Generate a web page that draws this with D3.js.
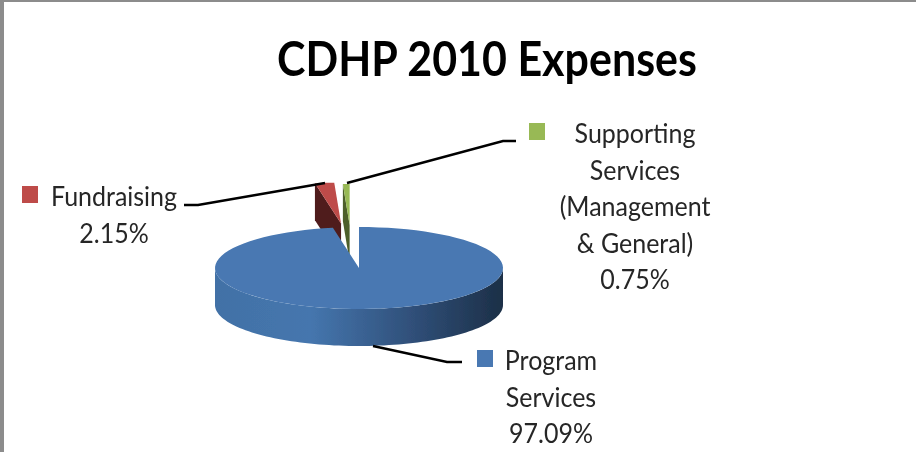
<!DOCTYPE html>
<html>
<head>
<meta charset="utf-8">
<script src="https://cdn.jsdelivr.net/npm/d3@7"></script>
<style>
html, body { margin: 0; padding: 0; background: #fff; }
svg { display: block; }
text { font-family: Lato, "Open Sans", sans-serif; fill: #262626; }
</style>
</head>
<body>
<div id="viz"></div>
<script>
var width = 916;
var height = 452;

var title = "CDHP 2010 Expenses";
var categories = ["Program Services", "Fundraising", "Supporting Services (Management & General)"];
var percents = [97.09, 2.15, 0.75];
var percentLabels = ["97.09%", "2.15%", "0.75%"];
var labelLines = [
	["Program", "Services"],
	["Fundraising"],
	["Supporting", "Services", "(Management", "& General)"]
];
var topColors = ["#4878b2", "#be4b48", "#98b954"];
var sideColors = ["#4878b2", "#4f1e1c", "#4d5f2a"];

var cx = 359, cy = 268, rx = 144, ry = 41, depth = 37;

// pulled out slices: k = how far in radii, lean = degrees added to the pull direction
var explode = [{k: 0, lean: 0}, {k: 1.09, lean: 0}, {k: 1.05, lean: -2.2}];

var pie = d3.pie().sort(null).value(function(d){ return d; });
var arcs = pie(percents);

function pt(a, ox, oy, r){
	return [cx + ox + rx*r*Math.sin(a), cy + oy - ry*r*Math.cos(a)];
}

function wedgePath(d, ox, oy){
	var s = "M " + pt(0, ox, oy, 0);
	for (var i = 0; i <= 90; i++){
		var a = d.startAngle + (d.endAngle - d.startAngle)*i/90;
		s += " L " + pt(a, ox, oy, 1);
	}
	return s + " Z";
}

var svg = d3.select("#viz").append("svg").attr("width", width).attr("height", height);

svg.append("rect").attr("width", width).attr("height", height).attr("fill", "#fff");

var defs = svg.append("defs");
var grad = defs.append("linearGradient").attr("id", "side").attr("gradientUnits", "userSpaceOnUse")
	.attr("x1", cx - rx).attr("x2", cx + rx).attr("y1", 0).attr("y2", 0);
grad.append("stop").attr("offset", 0).attr("stop-color", "#4271a6");
grad.append("stop").attr("offset", 0.33).attr("stop-color", "#4576ae");
grad.append("stop").attr("offset", 0.68).attr("stop-color", "#30507a");
grad.append("stop").attr("offset", 1).attr("stop-color", "#1c2f47");
defs.append("filter").attr("id", "soft").append("feGaussianBlur").attr("stdDeviation", 0.6);

var g = svg.append("g").attr("filter", "url(#soft)");

// exploded slices first, the big one sits in front of them
[1, 2].forEach(function(i){
	var d = arcs[i];
	var mid = (d.startAngle + d.endAngle)/2 + explode[i].lean*Math.PI/180;
	var ox = rx*explode[i].k*Math.sin(mid);
	var oy = -ry*explode[i].k*Math.cos(mid);
	var apex = pt(0, ox, oy, 0);
	var outer = pt(d.startAngle, ox, oy, 1);
	g.append("path")
		.attr("d", "M " + apex + " L " + outer + " L " + [outer[0], outer[1] + depth] + " L " + [apex[0], apex[1] + depth] + " Z")
		.attr("fill", sideColors[i]);
	g.append("path").attr("d", wedgePath(d, ox, oy)).attr("fill", topColors[i]);
});

// rim of the big slice, front half only
var rim = "M " + pt(Math.PI/2, 0, 0, 1);
for (var a = 90; a <= 270; a += 2){
	rim += " L " + pt(a*Math.PI/180, 0, 0, 1);
}
for (var b = 270; b >= 90; b -= 2){
	var p = pt(b*Math.PI/180, 0, 0, 1);
	rim += " L " + [p[0], p[1] + depth];
}
g.append("path").attr("d", rim + " Z").attr("fill", "url(#side)");
g.append("path").attr("d", wedgePath(arcs[0], 0, 0)).attr("fill", topColors[0]);

// leader lines
var leaders = d3.line();
var leaderPts = [
	[[373, 346], [447, 362], [462, 362]],
	[[184, 205], [198, 205], [325, 183]],
	[[347, 183], [503, 141], [516, 141]]
];
leaderPts.forEach(function(l){
	g.append("path").attr("d", leaders(l)).attr("fill", "none").attr("stroke", "#000").attr("stroke-width", 2.4);
});

// legend keys and labels
var keys = [[477, 350], [22, 186], [529, 123]];
var labelX = [551, 114, 635];
var labelY = [361, 197, 134];
var lineStep = 36.5;

categories.forEach(function(c, i){
	g.append("rect").attr("x", keys[i][0]).attr("y", keys[i][1]).attr("width", 16).attr("height", 17).attr("fill", topColors[i]);
	var lines = labelLines[i].concat([percentLabels[i]]);
	lines.forEach(function(t, j){
		g.append("text")
			.attr("transform", "translate(" + labelX[i] + "," + (labelY[i] + j*lineStep) + ") scale(1,1.08)")
			.attr("dy", "0.35em")
			.attr("text-anchor", "middle")
			.attr("font-size", 25)
			.text(t);
	});
});

g.append("text")
	.attr("transform", "translate(487,76) scale(1,1.12)")
	.attr("text-anchor", "middle")
	.attr("font-size", 43)
	.attr("font-weight", 700)
	.attr("style", "fill:#000")
	.text(title);

// window edge of the screenshot
svg.append("rect").attr("x", 0).attr("y", 0).attr("width", width).attr("height", 2).attr("fill", "#8c8c8c");
svg.append("rect").attr("x", 0).attr("y", 0).attr("width", 4).attr("height", height).attr("fill", "#8c8c8c");
</script>
</body>
</html>
